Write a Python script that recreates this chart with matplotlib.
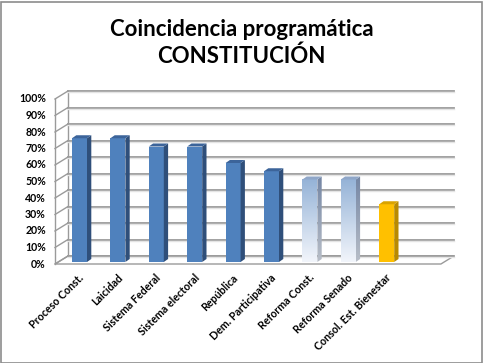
import numpy as np
import matplotlib
matplotlib.use("Agg")
import matplotlib.pyplot as plt
from matplotlib.patches import Polygon, Rectangle

# datos del grafico
categorias = ["Proceso Const.", "Laicidad", "Sistema Federal", "Sistema electoral",
              "República", "Dem. Participativa", "Reforma Const.", "Reforma Senado",
              "Consol. Est. Bienestar"]
valores = [75, 75, 70, 70, 60, 55, 50, 50, 35]
estilos = ["azul"] * 6 + ["degradado", "degradado", "amarillo"]
ticks_y = list(range(0, 101, 10))
titulo = "Coincidencia programática\nCONSTITUCIÓN"

W, H, DPI = 483, 363, 100
SX, SY = 38.4, 1.65          # px por categoria / px por punto porcentual
X0, Y0 = 79.5, 262           # pixel del centro de la barra 0 y del 0%

fig = plt.figure(figsize=(W / DPI, H / DPI), dpi=DPI)
ax = fig.add_axes([0, 0, 1, 1])
ax.set_xlim(-X0 / SX, (W - X0) / SX)
ax.set_ylim(-(H - Y0) / SY, Y0 / SY)
ax.axis("off")

def px(dx, dy):
    # desplazamiento en pixeles -> unidades de datos
    return dx / SX, dy / SY

fx, fy = px(-3, -2)    # plano frontal
bx, by = px(10, 6)     # pared del fondo
x_izq = -0.56
x_der = 9.49
gris = "#9a9a9a"

# suelo
suelo = Polygon([(x_izq + fx, fy), (x_der + fx, fy), (x_der + bx, by), (x_izq + bx, by)],
                closed=True, facecolor="white", edgecolor=gris, lw=1.0, zorder=1)
ax.add_patch(suelo)

# pared izquierda y lineas de division
ax.plot([x_izq + fx, x_izq + fx], [fy, 100 + fy], color=gris, lw=1.0, zorder=1)
ax.plot([x_izq + bx, x_izq + bx], [by, 100 + by], color=gris, lw=1.0, zorder=1)
for t in ticks_y:
    ax.plot([x_izq + bx, x_der + bx], [t + by, t + by], color=gris, lw=1.3, zorder=1)
    ax.plot([x_izq + bx, x_der + bx], [t + by - 0.9, t + by - 0.9], color="#e4e4e4", lw=1.0, zorder=1)
    ax.plot([x_izq + fx, x_izq + bx], [t + fy, t + by], color=gris, lw=1.0, zorder=1)
    ax.text(x_izq + fx - 0.24, t + fy, f"{t}%", ha="right", va="center",
            fontsize=7.6, fontweight="bold", family="Lato", color="black")

# barras
w = 15 / SX
sdx, sdy = px(4.3, 3)
colores = {
    "azul": ("#4F81BD", "#2F4F7A", "#3C649A"),
    "amarillo": ("#FFC000", "#B88A00", "#D9A300"),
}
for i, (v, est) in enumerate(zip(valores, estilos)):
    l, r = i - w / 2, i + w / 2
    if est == "degradado":
        grad = np.linspace(0, 1, 100).reshape(-1, 1)
        c_top = np.array([0x95, 0xB3, 0xD7]) / 255
        c_bot = np.array([0xF2, 0xF5, 0xFB]) / 255
        img = (c_bot + (c_top - c_bot) * grad).reshape(100, 1, 3)
        ax.imshow(img, extent=[l, r, 0, v], origin="lower", aspect="auto", zorder=3)
        s_top = np.array([0x74, 0x86, 0xA4]) / 255
        s_bot = np.array([0xB8, 0xBE, 0xC8]) / 255
        simg = (s_bot + (s_top - s_bot) * grad).reshape(100, 1, 3)
        im = ax.imshow(simg, extent=[r, r + sdx, 0, v + sdy], origin="lower", aspect="auto", zorder=3)
        lado = Polygon([(r, 0), (r + sdx, sdy), (r + sdx, v + sdy), (r, v)], closed=True,
                       facecolor="none", edgecolor="none")
        ax.add_patch(lado)
        im.set_clip_path(lado)
        tapa_c = "#8FA6C8"
    else:
        frente, lado_c, tapa_c = colores[est]
        ax.add_patch(Rectangle((l, 0), w, v, facecolor=frente, edgecolor="none", zorder=3))
        ax.add_patch(Polygon([(r, 0), (r + sdx, sdy), (r + sdx, v + sdy), (r, v)],
                             closed=True, facecolor=lado_c, edgecolor="none", zorder=3))
    ax.add_patch(Polygon([(l, v), (r, v), (r + sdx, v + sdy), (l + sdx, v + sdy)],
                         closed=True, facecolor=tapa_c, edgecolor="none", zorder=3))

# etiquetas de categoria
for i, c in enumerate(categorias):
    ax.text(i - 1 / SX, -10 / SY, c, rotation=45, rotation_mode="anchor",
            ha="right", va="top", fontsize=7.7, fontweight="bold", family="Lato",
            color="black")

fig.text(0.5, 1 - 43 / H, titulo, ha="center", va="center", fontsize=16,
         fontweight="bold", family="Lato", linespacing=1.35)

fig.add_artist(Rectangle((0.5 / W, 0.5 / H), 1 - 2 / W, 1 - 2 / H, transform=fig.transFigure,
                         fill=False, edgecolor="#8c8c8c", lw=1.2))

fig.savefig("out.png", dpi=DPI)
